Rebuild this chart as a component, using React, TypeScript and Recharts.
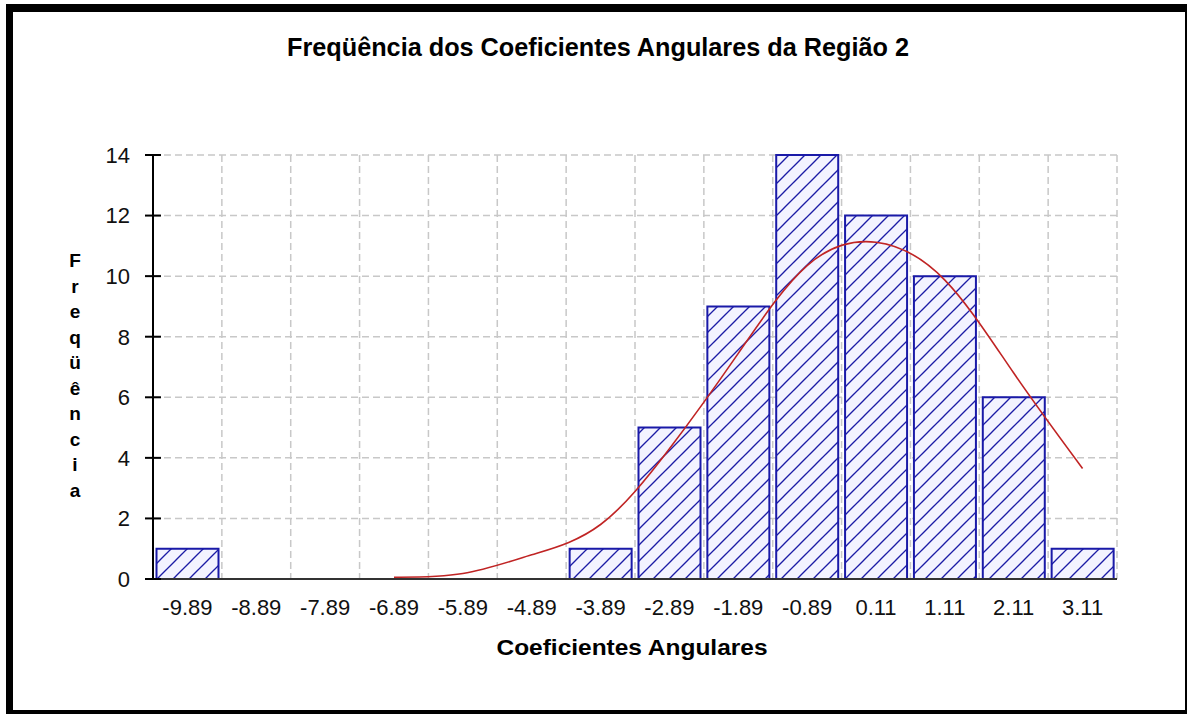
import React from 'react';
import { ComposedChart, Bar, Line, XAxis, YAxis, CartesianGrid } from 'recharts';

// ---- data ----
const categories = ['-9.89', '-8.89', '-7.89', '-6.89', '-5.89', '-4.89', '-3.89', '-2.89', '-1.89', '-0.89', '0.11', '1.11', '2.11', '3.11'];
const frequencies = [1, 0, 0, 0, 0, 0, 1, 5, 9, 14, 12, 10, 6, 1];
const normalFit: (number | null)[] = [null, null, null, 0.06, 0.18, 0.8, 1.8, 4.3, 7.45, 10.35, 11.12, 9.87, 6.8, 3.65];
const yTicks = [0, 2, 4, 6, 8, 10, 12, 14];

const title = 'Freqüência dos Coeficientes Angulares da Região 2';
const xLabel = 'Coeficientes Angulares';
const yLabel = 'Freqüência';

const data = categories.map((c, i) => ({ cat: c, freq: frequencies[i], fit: normalFit[i] }));

const Y_TICK_SIZE = 8;
const Y_TICK_MARGIN = 15;
const FONT = '"Liberation Sans", Arial, sans-serif';

function YTick(props: any) {
  const { x, y, payload } = props;
  const ax = x + Y_TICK_SIZE + Y_TICK_MARGIN;
  return (
    <g>
      <line x1={ax - 8} x2={ax + 8} y1={y} y2={y} stroke="#000" strokeWidth={2} />
      <text x={x} y={y} dy="0.355em" textAnchor="end" fontFamily={FONT} fontSize={22} fill="#111">
        {payload.value}
      </text>
    </g>
  );
}

export default function App() {
  return (
    <div style={{ position: 'absolute', left: 0, top: 0, width: 1187, height: 715, background: '#fff', overflow: 'hidden' }}>
      <svg width={0} height={0} style={{ position: 'absolute' }}>
        <defs>
          <pattern id="hatch" patternUnits="userSpaceOnUse" width={16} height={16}>
            <rect x={0} y={0} width={16} height={16} fill="#f3f3ff" />
            <line x1={0} y1={16} x2={16} y2={0} stroke="#1c1ca6" strokeWidth={1.3} />
            <line x1={-4} y1={4} x2={4} y2={-4} stroke="#1c1ca6" strokeWidth={1.3} />
            <line x1={12} y1={20} x2={20} y2={12} stroke="#1c1ca6" strokeWidth={1.3} />
          </pattern>
        </defs>
      </svg>
      <div
        style={{
          position: 'absolute',
          left: 6,
          top: 4,
          width: 1181,
          height: 710,
          boxSizing: 'border-box',
          borderTop: '8px solid #000',
          borderLeft: '7px solid #000',
          borderRight: '2px solid #000',
          borderBottom: '4px solid #000',
        }}
      />
      <svg width={1187} height={715} style={{ position: 'absolute', left: 0, top: 0 }}>
        <text
          x={598}
          y={56}
          textAnchor="middle"
          fontFamily='"Liberation Sans Narrow", "Liberation Sans", Arial, sans-serif'
          fontWeight="bold"
          fontSize={25}
          textLength={622}
          lengthAdjust="spacingAndGlyphs"
          fill="#000"
        >
          {title}
        </text>
        <text
          x={632}
          y={655}
          textAnchor="middle"
          fontFamily={FONT}
          fontWeight="bold"
          fontSize={22}
          textLength={271}
          lengthAdjust="spacingAndGlyphs"
          fill="#000"
        >
          {xLabel}
        </text>
        <text x={75} y={267} textAnchor="middle" fontFamily={FONT} fontWeight="bold" fontSize={19} fill="#000">
          {yLabel.split('').map((ch, i) => (
            <tspan key={i} x={75} dy={i === 0 ? 0 : 25.5}>
              {ch}
            </tspan>
          ))}
        </text>
      </svg>
      <div style={{ position: 'absolute', left: 0, top: 0 }}>
        <ComposedChart
          width={1187}
          height={715}
          data={data}
          margin={{ top: 155, right: 70, bottom: 96, left: 0 }}
          barCategoryGap={3.5}
          style={{ background: 'transparent' }}
        >
          <CartesianGrid
            stroke="#c8c8c8"
            strokeWidth={1.5}
            strokeDasharray="7 4"
            verticalCoordinatesGenerator={({ offset }: any) =>
              categories.map((_, i) => offset.left + ((i + 1) * offset.width) / categories.length)
            }
          />
          <XAxis
            dataKey="cat"
            height={40}
            tickLine={false}
            tickSize={0}
            tickMargin={20}
            axisLine={{ stroke: '#333', strokeWidth: 2 }}
            tick={{ fontFamily: FONT, fontSize: 22, fill: '#111' }}
            interval={0}
          />
          <YAxis
            width={153}
            domain={[0, 14]}
            ticks={yTicks}
            tickLine={false}
            tickSize={Y_TICK_SIZE}
            tickMargin={Y_TICK_MARGIN}
            axisLine={{ stroke: '#000', strokeWidth: 2 }}
            tick={<YTick />}
            interval={0}
          />
          <Bar dataKey="freq" fill="url(#hatch)" stroke="#1a1aa8" strokeWidth={2} isAnimationActive={false} />
          <Line
            dataKey="fit"
            type="natural"
            stroke="#c02424"
            strokeWidth={1.6}
            dot={false}
            activeDot={false}
            isAnimationActive={false}
          />
        </ComposedChart>
      </div>
    </div>
  );
}
